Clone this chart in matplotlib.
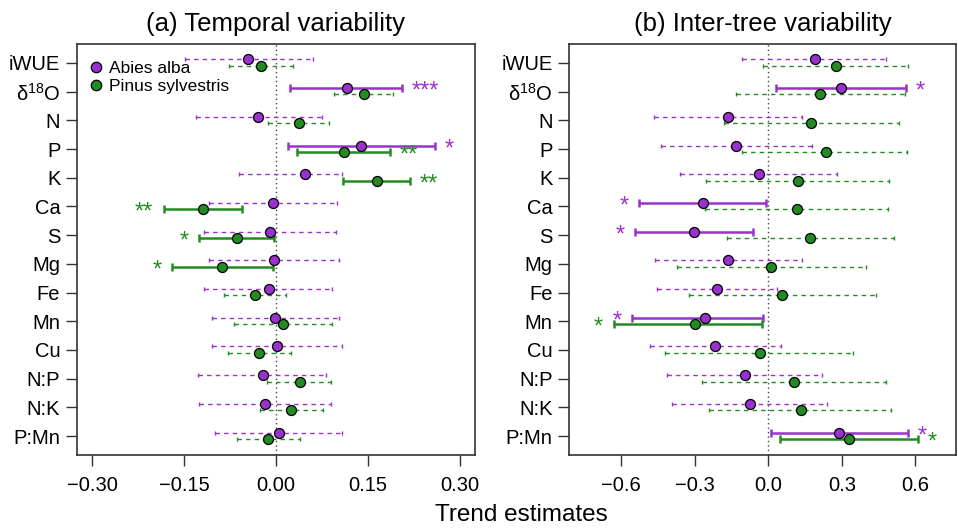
import matplotlib
matplotlib.use("Agg")
import matplotlib.pyplot as plt
from matplotlib.ticker import FuncFormatter
from matplotlib.lines import Line2D

plt.rcParams['font.family'] = ['Liberation Sans', 'DejaVu Sans']
plt.rcParams['mathtext.fontset'] = 'custom'
plt.rcParams['mathtext.rm'] = 'Liberation Sans'

variables = ["iWUE", "δ$^{18}$O", "N", "P", "K", "Ca", "S", "Mg", "Fe", "Mn", "Cu", "N:P", "N:K", "P:Mn"]
species = ["Abies alba", "Pinus sylvestris"]

# (a) Temporal variability
temp_abies_est = [-0.045, 0.115, -0.029, 0.139, 0.047, -0.005, -0.009, -0.004, -0.011, -0.001, 0.002, -0.022, -0.018, 0.005]
temp_abies_lo  = [-0.148, 0.023, -0.130, 0.019, -0.061, -0.110, -0.118, -0.110, -0.117, -0.104, -0.104, -0.127, -0.126, -0.100]
temp_abies_hi  = [0.060, 0.206, 0.075, 0.259, 0.108, 0.099, 0.098, 0.103, 0.092, 0.103, 0.108, 0.082, 0.089, 0.108]
temp_abies_sig = ["", "***", "", "*", "", "", "", "", "", "", "", "", "", ""]
temp_pinus_est = [-0.025, 0.144, 0.038, 0.111, 0.164, -0.119, -0.064, -0.088, -0.034, 0.012, -0.027, 0.039, 0.025, -0.013]
temp_pinus_lo  = [-0.077, 0.095, -0.013, 0.034, 0.109, -0.183, -0.126, -0.170, -0.085, -0.069, -0.079, -0.014, -0.026, -0.063]
temp_pinus_hi  = [0.028, 0.190, 0.086, 0.186, 0.218, -0.055, -0.003, -0.005, 0.016, 0.092, 0.024, 0.090, 0.076, 0.039]
temp_pinus_sig = ["", "", "", "**", "**", "**", "*", "*", "", "", "", "", "", ""]

# (b) Inter-tree variability
tree_abies_est = [0.190, 0.297, -0.163, -0.132, -0.037, -0.267, -0.303, -0.163, -0.210, -0.257, -0.215, -0.095, -0.075, 0.290]
tree_abies_lo  = [-0.105, 0.031, -0.464, -0.439, -0.358, -0.528, -0.544, -0.463, -0.453, -0.555, -0.482, -0.411, -0.393, 0.012]
tree_abies_hi  = [0.482, 0.563, 0.137, 0.177, 0.280, -0.007, -0.063, 0.139, 0.034, -0.023, 0.054, 0.218, 0.239, 0.569]
tree_abies_sig = ["", "*", "", "", "", "*", "*", "", "", "*", "", "", "", "*"]
tree_pinus_est = [0.276, 0.212, 0.174, 0.234, 0.122, 0.118, 0.171, 0.012, 0.057, -0.297, -0.034, 0.105, 0.132, 0.329]
tree_pinus_lo  = [-0.023, -0.132, -0.182, -0.107, -0.252, -0.256, -0.170, -0.371, -0.324, -0.630, -0.420, -0.271, -0.241, 0.050]
tree_pinus_hi  = [0.571, 0.558, 0.533, 0.567, 0.494, 0.490, 0.513, 0.397, 0.441, -0.027, 0.347, 0.480, 0.502, 0.610]
tree_pinus_sig = ["", "", "", "", "", "", "", "", "", "*", "", "", "", "*"]

PURPLE = "#9932CC"
GREEN = "#228B22"

fig = plt.figure(figsize=(9.58, 5.28), dpi=100)
axA = fig.add_axes([0.0804, 0.1383, 0.4154, 0.7784])
axB = fig.add_axes([0.5940, 0.1383, 0.4040, 0.7784])

n = len(variables)
ypos = [n - i for i in range(n)]


def draw_series(ax, est, lo, hi, sig, color, off):
    for i in range(n):
        y = ypos[i] + off
        solid = sig[i] != ""
        eb = ax.errorbar([est[i]], [y], xerr=[[est[i] - lo[i]], [hi[i] - est[i]]],
                         fmt='none', ecolor=color,
                         elinewidth=1.8 if solid else 1.0,
                         capsize=2.6 if solid else 1.3,
                         capthick=1.8 if solid else 1.0, zorder=2)
        if not solid:
            eb[2][0].set_linestyle((0, (3.2, 3.0)))
        if solid:
            if est[i] > 0:
                ax.annotate(sig[i], xy=(hi[i], y), xytext=(7, -7), textcoords='offset points',
                            ha='left', va='baseline', color=color, fontsize=17)
            else:
                ax.annotate(sig[i], xy=(lo[i], y), xytext=(-7.5, -7), textcoords='offset points',
                            ha='right', va='baseline', color=color, fontsize=17)
    ax.plot(est, [p + off for p in ypos], 'o', ms=7.2, mfc=color, mec='black', mew=0.9,
            ls='none', zorder=3)


def style_axis(ax, xlim, ticks, fmt, title):
    ax.axvline(0, color='#444444', lw=1.0, ls=(0, (1, 2.2)), zorder=1)
    ax.set_xlim(*xlim)
    ax.set_ylim(0.34, n + 0.66)
    ax.set_xticks(ticks)
    ax.xaxis.set_major_formatter(FuncFormatter(lambda v, p: (fmt % v).replace('-', '\u2212')))
    ax.set_yticks(ypos)
    ax.set_yticklabels(variables)
    ax.tick_params(axis='both', labelsize=14.5, length=8, width=1.0, color='#333333', direction='out')
    ax.tick_params(axis='x', pad=7)
    ax.tick_params(axis='y', pad=4)
    for s in ax.spines.values():
        s.set_linewidth(1.2)
        s.set_color('#333333')
    ax.set_title(title, fontsize=18.5, pad=9)


draw_series(axA, temp_abies_est, temp_abies_lo, temp_abies_hi, temp_abies_sig, PURPLE, 0.12)
draw_series(axA, temp_pinus_est, temp_pinus_lo, temp_pinus_hi, temp_pinus_sig, GREEN, -0.10)
draw_series(axB, tree_abies_est, tree_abies_lo, tree_abies_hi, tree_abies_sig, PURPLE, 0.12)
draw_series(axB, tree_pinus_est, tree_pinus_lo, tree_pinus_hi, tree_pinus_sig, GREEN, -0.10)

style_axis(axA, (-0.3245, 0.3245), [-0.30, -0.15, 0.0, 0.15, 0.30], '%.2f', "(a) Temporal variability")
style_axis(axB, (-0.812, 0.766), [-0.6, -0.3, 0.0, 0.3, 0.6], '%.1f', "(b) Inter-tree variability")

handles = [Line2D([], [], marker='o', ls='none', ms=7.5, mfc=PURPLE, mec='black', mew=0.9),
           Line2D([], [], marker='o', ls='none', ms=7.5, mfc=GREEN, mec='black', mew=0.9)]
axA.legend(handles, species, loc='upper left', bbox_to_anchor=(-0.012, 1.0), frameon=False,
           fontsize=12.5, handlelength=0.8, handletextpad=0.35, labelspacing=0.2,
           borderaxespad=0.55, borderpad=0.4)

fig.text(0.544, 0.024, "Trend estimates", ha='center', va='center', fontsize=17.5)

fig.savefig("out.png", dpi=100)
